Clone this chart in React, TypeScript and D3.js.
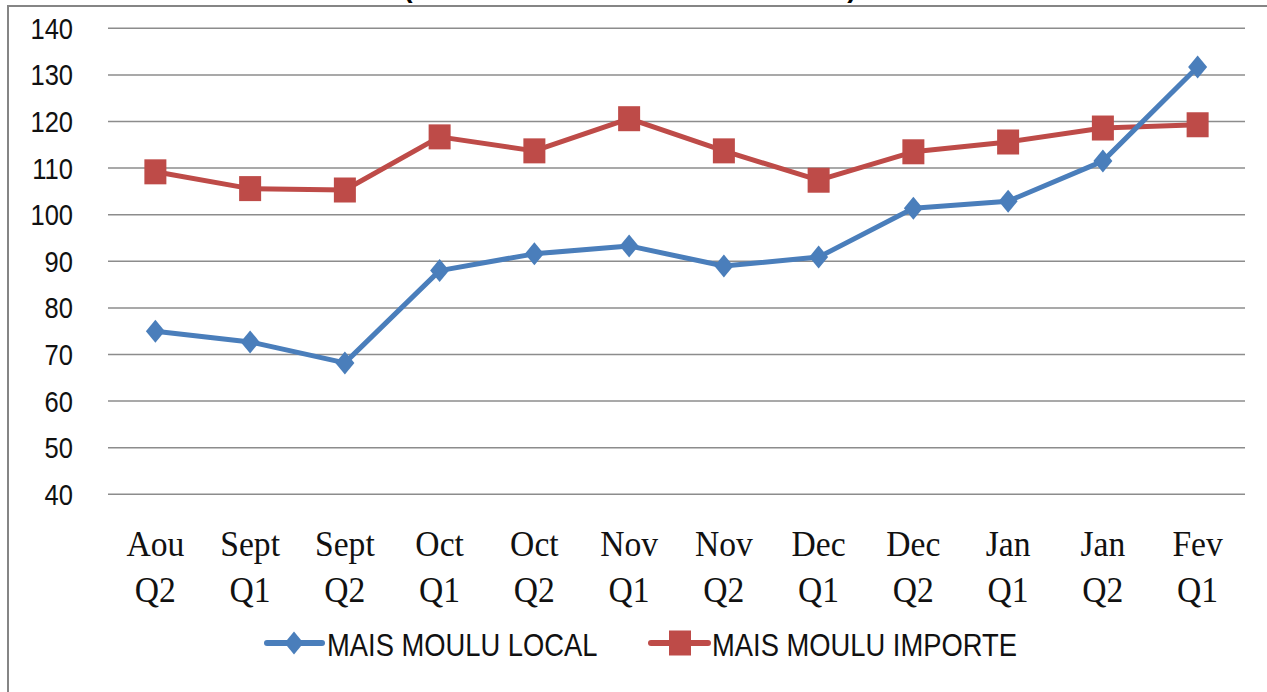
import { scalePoint, scaleLinear, line } from "d3";

const categories = [
    ["Aou", "Q2"],
    ["Sept", "Q1"],
    ["Sept", "Q2"],
    ["Oct", "Q1"],
    ["Oct", "Q2"],
    ["Nov", "Q1"],
    ["Nov", "Q2"],
    ["Dec", "Q1"],
    ["Dec", "Q2"],
    ["Jan", "Q1"],
    ["Jan", "Q2"],
    ["Fev", "Q1"],
];

const maisLocal = [75.0, 72.7, 68.2, 88.0, 91.6, 93.3, 89.0, 90.9, 101.4, 102.9, 111.5, 131.7];
const maisImporte = [109.2, 105.6, 105.3, 116.7, 113.7, 120.6, 113.7, 107.4, 113.5, 115.6, 118.6, 119.3];

const yTicks = [40, 50, 60, 70, 80, 90, 100, 110, 120, 130, 140];

const seriesNames = ["MAIS MOULU LOCAL", "MAIS MOULU IMPORTE"];

const BLUE = "#4a7ebb";
const RED = "#be4b48";
const GRID = "#8c8c8c";
const SANS = "'Liberation Sans', Arial, sans-serif";
const SERIF = "'Liberation Serif', 'Times New Roman', serif";

const W = 1267;
const H = 692;
const plotLeft = 108;
const plotRight = 1245;
const plotTop = 28.3;
const plotBottom = 494.3;

// diamond taller than wide, like the original marker
const diamond = "M0,-11.5L9.5,0L0,11.5L-9.5,0Z";

function Diamond({ x, y }: { x: number; y: number }) {
    return <path d={diamond} transform={`translate(${x},${y})`} fill={BLUE} />;
}

function Square({ x, y }: { x: number; y: number }) {
    return <rect x={x - 11} y={y - 12.5} width={22} height={25} fill={RED} />;
}

export default function App() {
    const keys = categories.map((_, i) => String(i));
    const xScale = scalePoint()
        .domain(keys)
        .range([plotLeft, plotRight])
        .padding(0.5);
    const yScale = scaleLinear().domain([40, 140]).range([plotBottom, plotTop]);

    const lineGen = line<number>()
        .x((_, i) => xScale(String(i)) ?? 0)
        .y((d) => yScale(d));

    return (
        <svg
            width={W}
            height={H}
            style={{ position: "absolute", left: 0, top: 0, display: "block", background: "#fff" }}
        >
            {/* frame */}
            <rect x={8} y={6} width={W + 20} height={H + 20} fill="#fff" stroke="#858585" strokeWidth={2} />

            {/* cut-off title (only the bottom of the brackets shows) */}
            <text x={408} y={-3} fontFamily={SANS} fontSize={28} fontWeight="bold" textAnchor="middle" fill="#000">(</text>
            <text x={852} y={-3} fontFamily={SANS} fontSize={28} fontWeight="bold" textAnchor="middle" fill="#000">)</text>

            {/* grid + y labels */}
            {yTicks.map((t) => (
                <g key={t}>
                    <line
                        x1={plotLeft}
                        x2={plotRight}
                        y1={yScale(t)}
                        y2={yScale(t)}
                        stroke={GRID}
                        strokeWidth={1.5}
                    />
                    <text
                        transform={`translate(73,${yScale(t) + 10.5}) scale(0.88,1)`}
                        textAnchor="end"
                        fontFamily={SANS}
                        fontSize={29}
                        fill="#111"
                    >
                        {t}
                    </text>
                </g>
            ))}

            {/* x labels */}
            {categories.map(([m, q], i) => {
                const cx = xScale(String(i)) ?? 0;
                return (
                    <g key={i} fontFamily={SERIF} fontSize={35} fill="#111" textAnchor="middle">
                        <text transform={`translate(${cx},556) scale(0.96,1)`}>{m}</text>
                        <text transform={`translate(${cx},602) scale(0.96,1)`}>{q}</text>
                    </g>
                );
            })}

            {/* series */}
            <path d={lineGen(maisImporte) ?? ""} fill="none" stroke={RED} strokeWidth={5} strokeLinejoin="round" />
            <path d={lineGen(maisLocal) ?? ""} fill="none" stroke={BLUE} strokeWidth={5} strokeLinejoin="round" />
            {maisImporte.map((v, i) => (
                <Square key={"r" + i} x={xScale(String(i)) ?? 0} y={yScale(v)} />
            ))}
            {maisLocal.map((v, i) => (
                <Diamond key={"b" + i} x={xScale(String(i)) ?? 0} y={yScale(v)} />
            ))}

            {/* legend */}
            <g>
                <line x1={267} x2={322} y1={643} y2={643} stroke={BLUE} strokeWidth={6} strokeLinecap="round" />
                <Diamond x={294} y={643} />
                <text
                    transform="translate(327,656) scale(0.855,1)"
                    fontFamily={SANS}
                    fontSize={32}
                    fill="#111"
                >
                    {seriesNames[0]}
                </text>
                <line x1={651} x2={708} y1={643} y2={643} stroke={RED} strokeWidth={6} strokeLinecap="round" />
                <Square x={680} y={643} />
                <text
                    transform="translate(712,656) scale(0.855,1)"
                    fontFamily={SANS}
                    fontSize={32}
                    fill="#111"
                >
                    {seriesNames[1]}
                </text>
            </g>
        </svg>
    );
}
